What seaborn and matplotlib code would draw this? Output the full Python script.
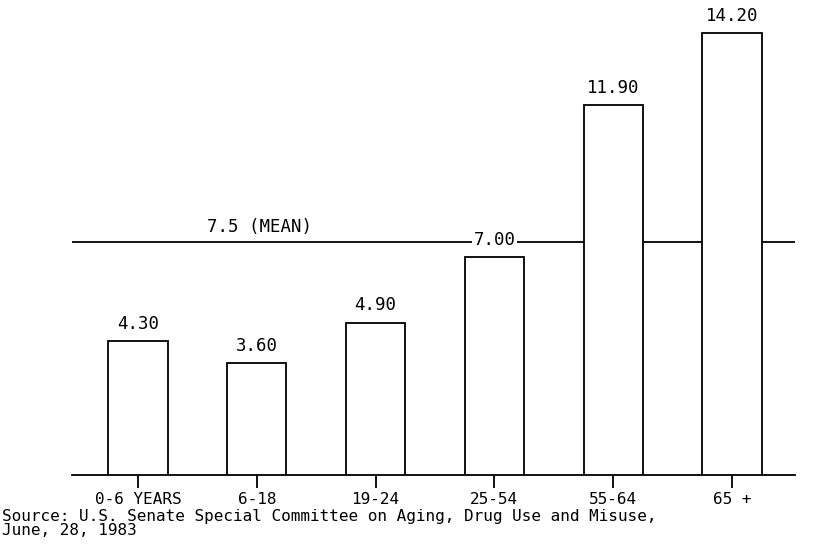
import matplotlib
matplotlib.use("Agg")
import matplotlib.pyplot as plt
import seaborn as sns
import pandas as pd

# Average number of prescriptions per person, by age group
age_groups = ["0-6 YEARS", "6-18", "19-24", "25-54", "55-64", "65 +"]
prescriptions = [4.30, 3.60, 4.90, 7.00, 11.90, 14.20]
mean_value = 7.5
mean_label = "7.5 (MEAN)"
source_lines = [
    "Source: U.S. Senate Special Committee on Aging, Drug Use and Misuse,",
    "June, 28, 1983",
]

sns.set_theme(style="white")
plt.rcParams["font.family"] = ["DejaVu Sans Mono", "DejaVu Sans"]
plt.rcParams["text.color"] = "black"

df = pd.DataFrame({"group": age_groups, "value": prescriptions})

fig = plt.figure(figsize=(8.18, 5.59), dpi=100)
ax = fig.add_axes([72 / 818, (559 - 475) / 559, (795 - 72) / 818, 475 / 559])

sns.barplot(data=df, x="group", y="value", ax=ax, color="white",
            saturation=1, edgecolor="black", linewidth=1.3, width=0.5,
            zorder=3)

ax.set_xlim(-0.555, 5.53)
ax.set_ylim(0, 475 / 31.1)

# mean reference line
ax.axhline(mean_value, color="black", linewidth=1.3, zorder=2)
ax.annotate(mean_label, xy=(1.02, mean_value), xytext=(0, 4),
            textcoords="offset points", ha="center", va="bottom",
            fontsize=12.5, color="black")

# value labels above bars
for i, v in enumerate(prescriptions):
    ax.annotate(f"{v:.2f}", xy=(i, v), xytext=(0, 6),
                textcoords="offset points", ha="center", va="bottom",
                fontsize=12.5, zorder=4, color="black",
                bbox=dict(boxstyle="square,pad=0.1", fc="white", ec="none"))

for side in ["top", "right", "left"]:
    ax.spines[side].set_visible(False)
ax.spines["bottom"].set_linewidth(1.3)
ax.spines["bottom"].set_color("black")
ax.set_yticks([])
ax.set_xlabel("")
ax.set_ylabel("")
ax.tick_params(axis="x", bottom=True, direction="out", length=9.5,
               width=1.3, color="black", pad=2.5, labelsize=11.5,
               labelcolor="black")

fig.text(0.002, 1 - 509 / 559, "\n".join(source_lines), ha="left",
         va="top", fontsize=11.5, linespacing=0.95, color="black")

fig.savefig("out.png", dpi=100, facecolor="white")
